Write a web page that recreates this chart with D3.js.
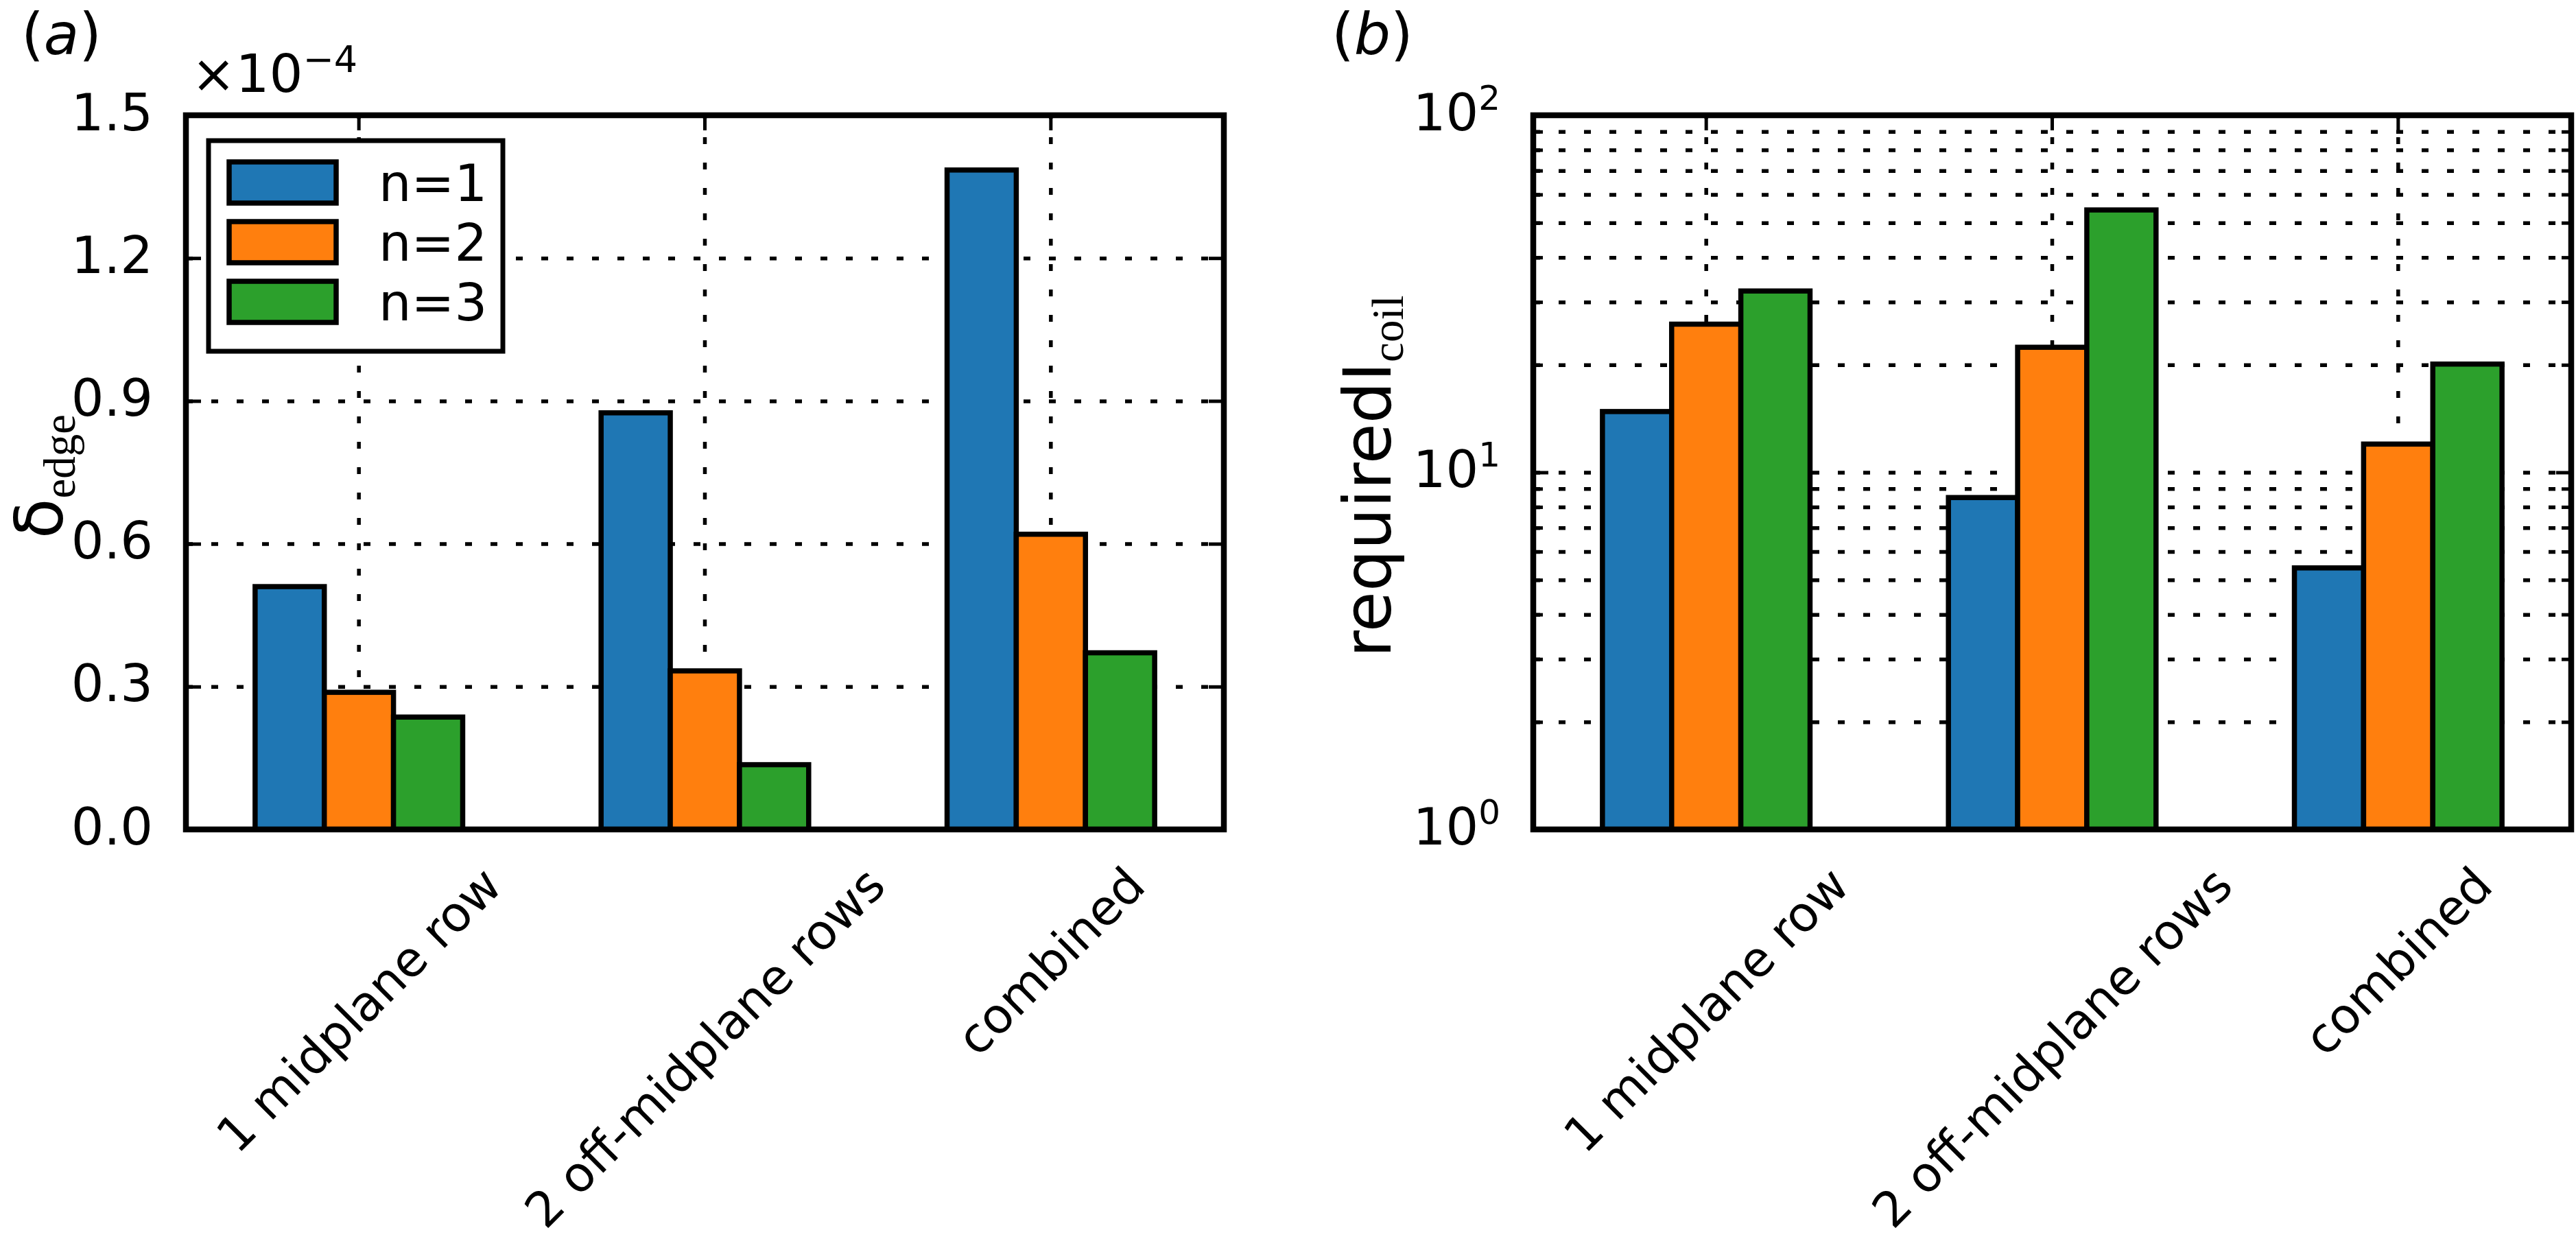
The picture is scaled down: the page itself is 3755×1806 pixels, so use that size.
<!DOCTYPE html>
<html>
<head>
<meta charset="utf-8">
<script src="https://cdn.jsdelivr.net/npm/d3@7"></script>
<style>
  body { margin: 0; background: #fff; }
  svg { display: block; background: #fff; }
  text { font-family: "DejaVu Sans", sans-serif; fill: #000; }
</style>
</head>
<body>
<div id="chart"></div>
<script>
// values
const categories = ["1 midplane row", "2 off-midplane rows", "combined"];
const seriesNames = ["n=1", "n=2", "n=3"];
const seriesColors = ["#1f77b4", "#ff7f0e", "#2ca02c"];

// panel (a): delta_edge, in units of 1e-4
const deltaN1 = [0.51, 0.875, 1.385];
const deltaN2 = [0.288, 0.333, 0.62];
const deltaN3 = [0.236, 0.136, 0.371];
const deltaTicks = [0, 0.3, 0.6, 0.9, 1.2, 1.5];

// panel (b): required I_coil, log axis
const coilN1 = [14.8, 8.5, 5.4];
const coilN2 = [26.0, 22.4, 12.0];
const coilN3 = [32.2, 54.3, 20.1];
const coilMajor = [1, 10, 100];
const coilMinor = [2, 3, 4, 5, 6, 7, 8, 9, 20, 30, 40, 50, 60, 70, 80, 90];

const width = 3755, height = 1806;
const axTop = 168, axBottom = 1209;
const tickFont = 75, xLabelFont = 71, yLabelFont = 96, subFont = 65;

const svg = d3.select("#chart").append("svg")
  .attr("width", width)
  .attr("height", height);

function styleGrid(g) {
  g.select(".domain").remove();
  g.selectAll("line")
    .attr("stroke", "#000")
    .attr("stroke-width", 5.5)
    .attr("stroke-dasharray", "10,27");
}

function styleTicks(g) {
  g.select(".domain").remove();
  g.attr("font-size", null).attr("font-family", null);
  g.selectAll("line").attr("stroke", "#000").attr("stroke-width", 5);
}

function drawPanel(opt) {
  const g = svg.append("g");
  const w = opt.right - opt.left;
  const h = axBottom - axTop;

  const x = d3.scaleBand()
    .domain(categories)
    .range([opt.left, opt.right])
    .paddingInner(0.4)
    .paddingOuter(0.2);
  const xs = d3.scaleBand().domain(seriesNames).range([0, x.bandwidth()]);
  const y = opt.y;

  // grid below everything
  g.append("g")
    .attr("transform", `translate(${opt.left},0)`)
    .call(d3.axisLeft(y).tickValues(opt.gridValues).tickSize(-w).tickFormat(""))
    .call(styleGrid);
  g.append("g")
    .attr("transform", `translate(0,${axBottom})`)
    .call(d3.axisBottom(x).tickSize(-h).tickFormat(""))
    .call(styleGrid);

  // inward ticks on all four sides
  const left = g.append("g")
    .attr("transform", `translate(${opt.left},0)`)
    .call(d3.axisLeft(y).tickValues(opt.ticks).tickSize(-22).tickPadding(48).tickFormat(opt.format))
    .call(styleTicks);
  g.append("g")
    .attr("transform", `translate(${opt.right},0)`)
    .call(d3.axisRight(y).tickValues(opt.ticks).tickSize(-22).tickFormat(""))
    .call(styleTicks);
  if (opt.minor) {
    g.append("g")
      .attr("transform", `translate(${opt.left},0)`)
      .call(d3.axisLeft(y).tickValues(opt.minor).tickSize(-14).tickFormat(""))
      .call(styleTicks);
    g.append("g")
      .attr("transform", `translate(${opt.right},0)`)
      .call(d3.axisRight(y).tickValues(opt.minor).tickSize(-14).tickFormat(""))
      .call(styleTicks);
  }
  g.append("g")
    .attr("transform", `translate(0,${axTop})`)
    .call(d3.axisTop(x).tickSize(-22).tickFormat(""))
    .call(styleTicks);
  g.append("g")
    .attr("transform", `translate(0,${axBottom})`)
    .call(d3.axisBottom(x).tickSize(-22).tickFormat(""))
    .call(styleTicks);

  left.selectAll("text")
    .attr("font-size", tickFont)
    .attr("dy", null)
    .attr("y", 21);
  if (opt.logLabels) {
    left.selectAll(".tick text").each(function (d) {
      const t = d3.select(this);
      t.append("tspan").text("10");
      t.append("tspan")
        .attr("font-size", 50)
        .attr("dy", -30)
        .text(Math.round(Math.log10(d)));
    });
  }

  // bars
  opt.series.forEach((vals, k) => {
    g.append("g")
      .selectAll("rect")
      .data(vals)
      .join("rect")
      .attr("x", (d, i) => x(categories[i]) + xs(seriesNames[k]))
      .attr("width", xs.bandwidth())
      .attr("y", d => y(d))
      .attr("height", d => y(opt.base) - y(d))
      .attr("fill", seriesColors[k])
      .attr("stroke", "#000")
      .attr("stroke-width", 7.5);
  });

  // frame
  g.append("rect")
    .attr("x", opt.left).attr("y", axTop)
    .attr("width", w).attr("height", h)
    .attr("fill", "none")
    .attr("stroke", "#000")
    .attr("stroke-width", 8.5);

  // rotated category labels, centred on the tick like matplotlib's ha=center
  const y0 = axBottom + 46;
  categories.forEach(c => {
    const cx = x(c) + x.bandwidth() / 2;
    const t = g.append("text")
      .attr("font-size", xLabelFont)
      .attr("text-anchor", "middle")
      .attr("dominant-baseline", "central")
      .text(c);
    const W = t.node().getComputedTextLength();
    const H = 0.9 * xLabelFont;
    const cy = y0 + (W + H) / (2 * Math.SQRT2);
    t.attr("transform", `translate(${cx},${cy}) rotate(-45)`);
  });

  // y label
  const yl = g.append("text")
    .attr("transform", `translate(${opt.left - opt.ylabelGap},${(axTop + axBottom) / 2 + 6}) rotate(-90)`)
    .attr("text-anchor", "middle");
  yl.append("tspan").attr("font-size", yLabelFont).text(opt.ylabel);
  yl.append("tspan")
    .attr("font-size", subFont)
    .attr("font-family", "Liberation Serif, serif")
    .attr("dy", 18)
    .text(opt.ysub);

  // panel letter
  const pl = svg.append("text")
    .attr("x", opt.letterX).attr("y", 79)
    .attr("font-size", 84);
  pl.append("tspan").text("(");
  pl.append("tspan").attr("font-style", "italic").text(opt.letter);
  pl.append("tspan").text(")");

  return { g, x, y };
}

// panel (a)
const panelA = drawPanel({
  left: 271, right: 1784,
  y: d3.scaleLinear().domain([0, 1.5]).range([axBottom, axTop]),
  base: 0,
  ticks: deltaTicks,
  gridValues: deltaTicks.slice(1, -1),
  format: d3.format(".1f"),
  series: [deltaN1, deltaN2, deltaN3],
  ylabel: "\u03b4", ysub: "edge", ylabelGap: 180,
  letter: "a", letterX: 31
});

// offset text of the linear axis
const off = svg.append("text")
  .attr("x", 279).attr("y", 134)
  .attr("font-size", 77);
off.append("tspan").text("\u00d710");
off.append("tspan").attr("font-size", 54).attr("dy", -29).text("\u22124");

// legend
const legend = panelA.g.append("g").attr("transform", "translate(304,205)");
legend.append("rect")
  .attr("width", 429).attr("height", 307)
  .attr("fill", "#fff")
  .attr("stroke", "#000")
  .attr("stroke-width", 7);
const items = legend.selectAll("g.item")
  .data(seriesNames)
  .join("g")
  .attr("class", "item")
  .attr("transform", (d, i) => `translate(0,${61 + i * 87})`);
items.append("rect")
  .attr("x", 30).attr("y", -30)
  .attr("width", 156).attr("height", 60)
  .attr("fill", (d, i) => seriesColors[i])
  .attr("stroke", "#000")
  .attr("stroke-width", 7.5);
items.append("text")
  .attr("x", 248).attr("y", 27)
  .attr("font-size", tickFont)
  .text(d => d);

// panel (b)
drawPanel({
  left: 2235, right: 3748,
  y: d3.scaleLog().domain([1, 100]).range([axBottom, axTop]),
  base: 1,
  ticks: coilMajor,
  minor: coilMinor,
  gridValues: coilMinor.concat([10]),
  format: "",
  logLabels: true,
  series: [coilN1, coilN2, coilN3],
  ylabel: "requiredI", ysub: "coil", ylabelGap: 208,
  letter: "b", letterX: 1941
});
</script>
</body>
</html>
